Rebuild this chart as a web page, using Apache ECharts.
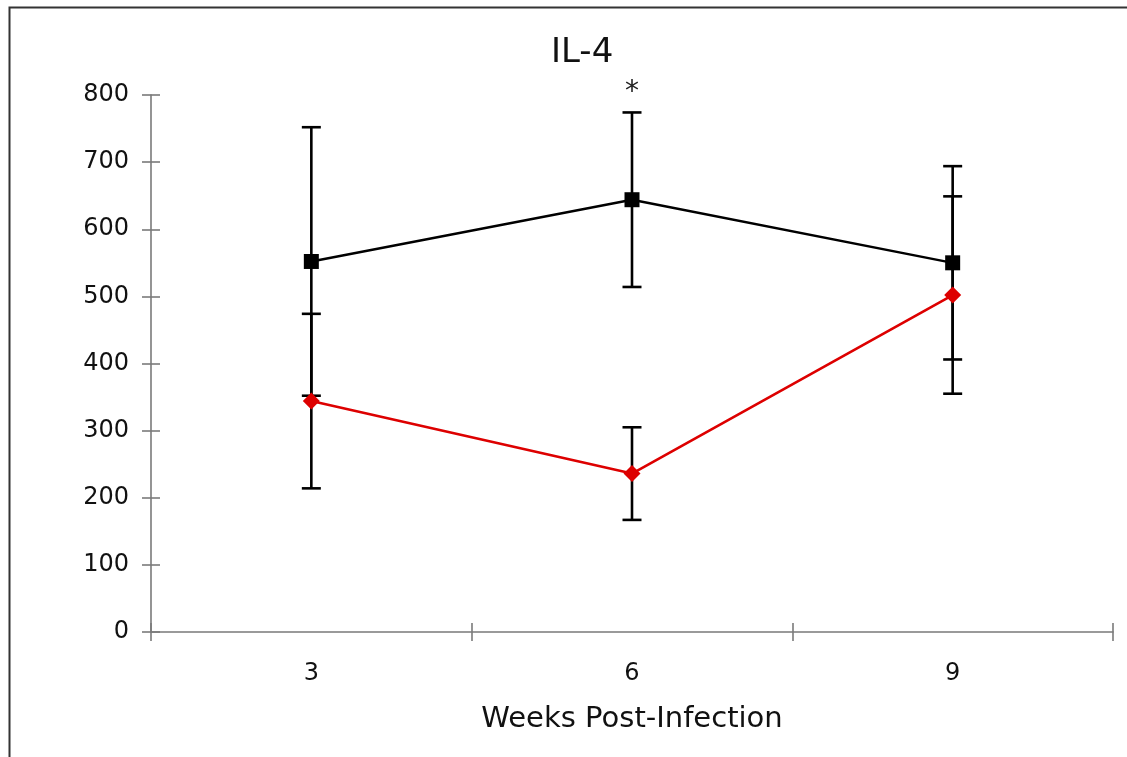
<!DOCTYPE html>
<html>
<head>
<meta charset="utf-8">
<style>
  html, body { margin: 0; padding: 0; background: #fff; }
  #chart { width: 1127px; height: 757px; }
</style>
<script src="https://cdn.jsdelivr.net/npm/echarts@6/dist/echarts.min.js"></script>
</head>
<body>
<div id="chart"></div>
<script>
// Weeks post-infection (categories)
var weeks = ['3', '6', '9'];

// Black series (squares): means and symmetric error
var blackMean = [552, 644, 550];
var blackErr  = [200, 130, 144];

// Red series (diamonds): means and symmetric error
var redMean = [344, 236, 502];
var redErr  = [130, 69, 147];

// Significance markers per week
var sigMarks = ['', '*', ''];

var FONT = 'DejaVu Sans';

function errData(mean, err) {
  return mean.map(function (m, i) { return [i, m - err[i], m + err[i], sigMarks[i]]; });
}

function renderErr(params, api) {
  var i = api.value(0);
  var lo = api.coord([i, api.value(1)]);
  var hi = api.coord([i, api.value(2)]);
  var half = 9.5;
  var style = { stroke: '#000', lineWidth: 2.6 };
  return {
    type: 'group',
    children: [
      { type: 'line', shape: { x1: lo[0], y1: lo[1], x2: hi[0], y2: hi[1] }, style: style },
      { type: 'line', shape: { x1: hi[0] - half, y1: hi[1], x2: hi[0] + half, y2: hi[1] }, style: style },
      { type: 'line', shape: { x1: lo[0] - half, y1: lo[1], x2: lo[0] + half, y2: lo[1] }, style: style }
    ]
  };
}

function renderSig(params, api) {
  var i = api.value(0);
  var mark = sigMarks[i];
  if (!mark) return null;
  var hi = api.coord([i, api.value(2)]);
  return {
    type: 'text',
    style: {
      text: mark, x: hi[0], y: hi[1] - 20,
      align: 'center', verticalAlign: 'middle',
      font: '28px "' + FONT + '"', fill: '#222'
    }
  };
}

var axisLineStyle = { color: '#7a7a7a', width: 1.6 };

var chart = echarts.init(document.getElementById('chart'));
chart.setOption({
  animation: false,
  backgroundColor: '#fff',
  title: {
    text: 'IL-4',
    left: 546, top: 31,
    textStyle: { fontFamily: FONT, fontSize: 34, fontWeight: 'normal', color: '#111' }
  },
  graphic: [{
    type: 'rect', left: 7, top: 5, silent: true,
    shape: { width: 1400, height: 1000 },
    style: { fill: 'none', stroke: '#333', lineWidth: 2 }
  }],
  grid: { left: 151, right: 14, top: 95, bottom: 125 },
  xAxis: [{
    type: 'category', data: weeks, boundaryGap: true,
    name: 'Weeks Post-Infection', nameLocation: 'middle', nameGap: 73,
    nameTextStyle: { fontFamily: FONT, fontSize: 29, color: '#111' },
    axisLine: { lineStyle: axisLineStyle },
    axisTick: { show: true, length: 9, lineStyle: axisLineStyle },
    axisLabel: { fontFamily: FONT, fontSize: 24, color: '#111', margin: 30 },
    splitLine: { show: false }
  }, {
    type: 'category', data: weeks, boundaryGap: true, position: 'bottom',
    axisLine: { show: false },
    axisTick: { show: true, inside: true, length: 9, lineStyle: axisLineStyle },
    axisLabel: { show: false },
    splitLine: { show: false }
  }],
  yAxis: [{
    type: 'value', min: 0, max: 800, interval: 100,
    axisLine: { show: true, lineStyle: axisLineStyle },
    axisTick: { show: true, length: 9, lineStyle: axisLineStyle },
    axisLabel: { fontFamily: FONT, fontSize: 24, color: '#111', margin: 22 },
    splitLine: { show: false }
  }, {
    type: 'value', min: 0, max: 800, interval: 100, position: 'left', offset: 0,
    axisLine: { show: false },
    axisTick: { show: true, inside: true, length: 9, lineStyle: axisLineStyle },
    axisLabel: { show: false },
    splitLine: { show: false }
  }],
  series: [
    {
      type: 'custom', name: 'black-err', renderItem: renderErr,
      data: errData(blackMean, blackErr), z: 1, silent: true
    },
    {
      type: 'custom', name: 'red-err', renderItem: renderErr,
      data: errData(redMean, redErr), z: 1, silent: true
    },
    {
      type: 'line', name: 'black', data: blackMean, z: 3,
      symbol: 'rect', symbolSize: 15, showAllSymbol: true,
      itemStyle: { color: '#000' },
      lineStyle: { color: '#000', width: 2.4 }
    },
    {
      type: 'line', name: 'red', data: redMean, z: 3,
      symbol: 'diamond', symbolSize: 17, showAllSymbol: true,
      itemStyle: { color: '#dd0000' },
      lineStyle: { color: '#dd0000', width: 2.6 }
    },
    {
      type: 'custom', name: 'sig', renderItem: renderSig,
      data: errData(blackMean, blackErr), z: 4, silent: true
    }
  ]
});
</script>
</body>
</html>
